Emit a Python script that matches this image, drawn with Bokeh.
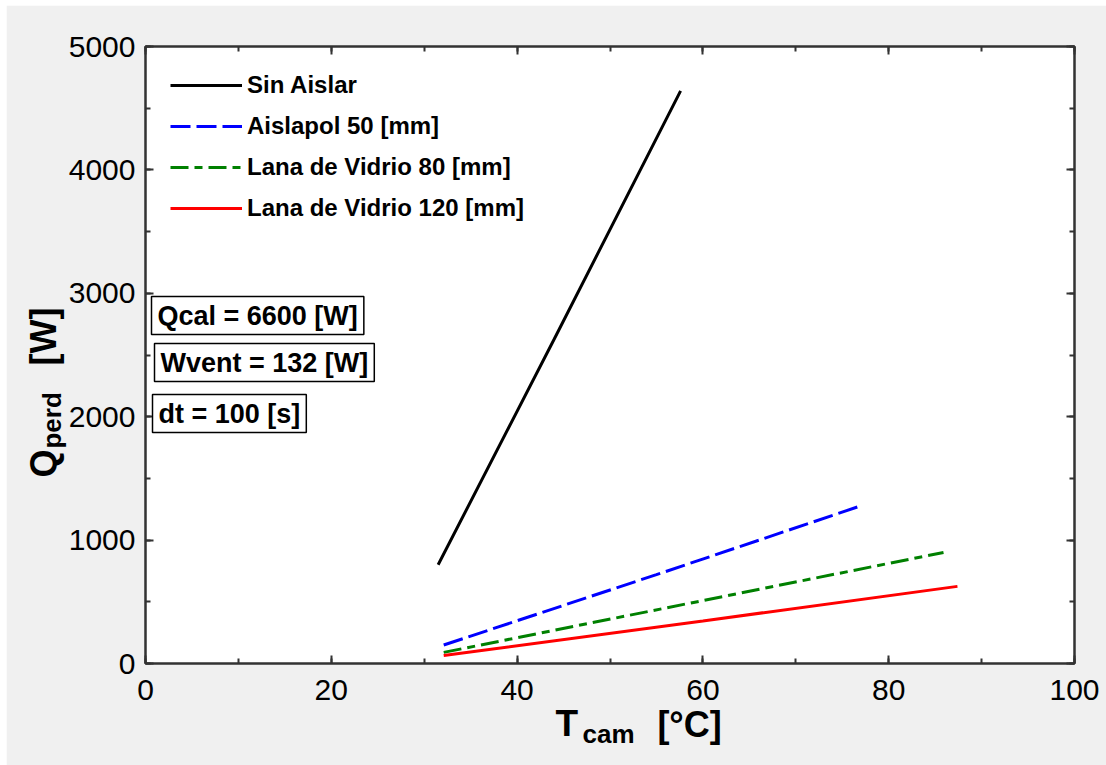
import math
from bokeh.plotting import figure
from bokeh.models import (Legend, LegendItem, Label, LinearAxis, Range1d,
                          CustomJSTickFormatter, FixedTicker)
from bokeh.embed import file_html
from bokeh.resources import INLINE

# ---- data ----
sin_x = [31.5, 44.0, 57.6]
sin_y = [800, 2630, 4640]
ais_x = [32.1, 55.0, 77.1]
ais_y = [150, 720, 1280]
l80_x = [32.1, 59.0, 85.9]
l80_y = [90, 495, 900]
l120_x = [32.1, 60.0, 87.4]
l120_y = [65, 345, 625]

series_names = ["Sin Aislar", "Aislapol 50 [mm]", "Lana de Vidrio 80 [mm]", "Lana de Vidrio 120 [mm]"]
info_texts = ["Qcal = 6600 [W]", "Wvent = 132 [W]", "dt = 100 [s]"]
x_ticks = [0, 20, 40, 60, 80, 100]
y_ticks = [0, 1000, 2000, 3000, 4000, 5000]
x_title = ["T", "cam", "[°C]"]
y_title = ["Q", "perd", "[W]"]

FONT = "Liberation Sans"
AXC = "#333333"

# The right border also holds the (empty) panels of the axis-title labels,
# so the canvas is wider than the visible frame area.
p = figure(width=1319, height=760, output_backend="svg", toolbar_location=None,
           x_range=Range1d(0, 100), y_range=Range1d(0, 5000),
           min_border_left=139, min_border_top=41, min_border_right=32, min_border_bottom=102)
p.styles = {"margin-left": "6px", "margin-top": "5px"}
p.border_fill_color = "#f0f0f0"
p.background_fill_color = "white"
p.outline_line_color = AXC
p.outline_line_width = 2
p.xgrid.visible = False
p.ygrid.visible = False

def style_axis(ax, ticks, minor):
    ax.ticker = FixedTicker(ticks=ticks, minor_ticks=minor)
    ax.axis_line_color = AXC
    ax.axis_line_width = 2
    ax.major_tick_in = 8
    ax.major_tick_out = 0
    ax.minor_tick_in = 5
    ax.minor_tick_out = 0
    ax.major_tick_line_color = AXC
    ax.major_tick_line_width = 2
    ax.minor_tick_line_color = AXC
    ax.minor_tick_line_width = 2
    ax.major_label_text_font = FONT
    ax.major_label_text_font_size = "30px"
    ax.major_label_text_color = "black"

x_minor = list(range(0, 101, 10))
y_minor = list(range(0, 5001, 500))
style_axis(p.xaxis[0], x_ticks, x_minor)
style_axis(p.yaxis[0], y_ticks, y_minor)
p.xaxis[0].major_label_standoff = 16
p.yaxis[0].major_label_standoff = 10

top = LinearAxis()
right = LinearAxis()
style_axis(top, x_ticks, x_minor)
style_axis(right, y_ticks, y_minor)
for ax in (top, right):
    ax.formatter = CustomJSTickFormatter(code="return ''")
    ax.major_label_standoff = 0
p.add_layout(top, "above")
p.add_layout(right, "right")

r1 = p.line(sin_x, sin_y, line_color="black", line_width=3)
r2 = p.line(ais_x, ais_y, line_color="#0000ff", line_width=3, line_dash="20 6")
r3 = p.line(l80_x, l80_y, line_color="#008000", line_width=3, line_dash="18 6 8 6")
r4 = p.line(l120_x, l120_y, line_color="#ff0000", line_width=3)

legend = Legend(items=[LegendItem(label=n, renderers=[r]) for n, r in zip(series_names, [r1, r2, r3, r4])],
                location="top_left", margin=25, padding=0, spacing=13,
                glyph_width=72, glyph_height=20, label_standoff=5,
                label_text_font=FONT, label_text_font_size="24px", label_text_font_style="bold",
                label_text_color="black",
                background_fill_alpha=0, border_line_color=None)
p.add_layout(legend)

# info boxes
box_pos = [(6, 348), (9, 301), (7, 250)]
for t, (bx, by) in zip(info_texts, box_pos):
    p.add_layout(Label(x=bx, y=by, x_units="screen", y_units="screen", text=t,
                       text_font=FONT, text_font_size="27px", text_font_style="bold",
                       text_color="black",
                       text_align="left", text_baseline="middle",
                       border_line_color="black", border_line_width=1.5,
                       background_fill_color="white", padding=(6, 4)))

# axis titles built from pieces (main letter + subscript + unit).
def lab(x, y, text, size, angle=0):
    p.add_layout(Label(x=x, y=y, text=text,
                       text_font=FONT, text_font_size=size, text_font_style="bold",
                       text_align="left", text_baseline="middle", angle=angle,
                       text_color="black"), "right")

lab(44.13, -489, x_title[0], "37px")
lab(47.04, -570, x_title[1], "26px")
lab(55.1, -492, x_title[2], "36px")

lab(-11.01, 1507, y_title[0], "36px", math.pi / 2)
lab(-10.08, 1742, y_title[1], "26px", math.pi / 2)
lab(-11.01, 2415, y_title[2], "36px", math.pi / 2)

open("out.html", "w").write(file_html(p, INLINE))
